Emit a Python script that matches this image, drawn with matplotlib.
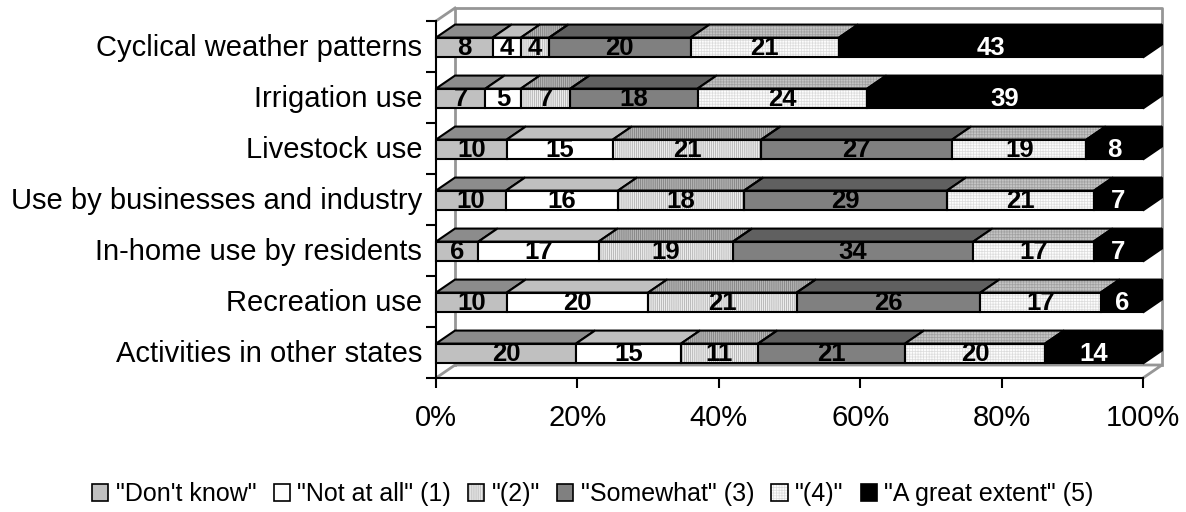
import numpy as np
import matplotlib
matplotlib.use('Agg')
import matplotlib.pyplot as plt
from matplotlib.patches import Polygon, Patch
from matplotlib.legend_handler import HandlerTuple

plt.rcParams['font.family'] = ['Liberation Sans', 'DejaVu Sans']
plt.rcParams['hatch.linewidth'] = 0.5

categories = ['Cyclical weather patterns', 'Irrigation use', 'Livestock use',
              'Use by businesses and industry', 'In-home use by residents',
              'Recreation use', 'Activities in other states']
dont_know = [8, 7, 10, 10, 6, 10, 20]
not_at_all = [4, 5, 15, 16, 17, 20, 15]
two = [4, 7, 21, 18, 19, 21, 11]
somewhat = [20, 18, 27, 29, 34, 26, 21]
four = [21, 24, 19, 21, 17, 17, 20]
great = [43, 39, 8, 7, 7, 6, 14]

series = [dont_know, not_at_all, two, somewhat, four, great]
names = ['"Don\'t know"', '"Not at all" (1)', '"(2)"', '"Somewhat" (3)', '"(4)"', '"A great extent" (5)']
# front colour, hatch colour, hatch, top colour, top hatch colour
styles = [('#c0c0c0', None, None, '#8c8c8c', None),
          ('#ffffff', None, None, '#c0c0c0', None),
          ('#ececec', '#a8a8a8', '||||||||', '#b4b4b4', '#787878'),
          ('#808080', None, None, '#606060', None),
          ('#fcfcfc', '#dcdcdc', '++++++', '#c4c4c4', '#a0a0a0'),
          ('#000000', None, None, '#000000', None)]

W, H = 1186, 512
fig = plt.figure(figsize=(W / 100, H / 100), dpi=100)
# plot box in pixels: 0% at 436, 100% at 1143, axis from y=21 to y=378
ax = fig.add_axes([436 / W, 1 - 378 / H, 707 / W, 357 / H])
ax.set_xlim(0, 100)
ax.set_ylim(0, 7)

dx = 19 / 7.07   # depth in data units
dy = 13 / 51.0
bar_h = 0.39
gray = '#969696'


def poly(pts, fc, hc=None, hatch=None, z=3):
    if hatch:
        ax.add_patch(Polygon(pts, closed=True, facecolor=fc, edgecolor=hc, hatch=hatch, lw=0, zorder=z, clip_on=False))
        ax.add_patch(Polygon(pts, closed=True, fill=False, edgecolor='black', lw=1.5, zorder=z + 0.1, clip_on=False))
    else:
        ax.add_patch(Polygon(pts, closed=True, facecolor=fc, edgecolor='black', lw=1.5, zorder=z, clip_on=False))


# back wall and floor
ax.plot([dx, dx, 100 + dx, 100 + dx], [dy, 7 + dy, 7 + dy, dy], color=gray, lw=2, clip_on=False, zorder=1)
ax.plot([0, dx, 100 + dx, 100], [0, dy, dy, 0], color=gray, lw=2, clip_on=False, zorder=1)
ax.plot([0, dx], [7, 7 + dy], color=gray, lw=2, clip_on=False, zorder=1)

data = np.array(series, dtype=float)
shares = data / data.sum(axis=0) * 100

for i, cat in enumerate(categories):
    yc = 6.48 - i
    y0, y1 = yc - bar_h / 2, yc + bar_h / 2
    left = 0.0
    for j in range(len(series)):
        w = shares[j][i]
        fc, hc, hatch, tc, thc = styles[j]
        right = left + w
        poly([(left, y0), (right, y0), (right, y1), (left, y1)], fc, hc, hatch)
        poly([(left, y1), (right, y1), (right + dx, y1 + dy), (left + dx, y1 + dy)], tc, thc, hatch)
        if j == len(series) - 1:
            poly([(right, y0), (right + dx, y0 + dy), (right + dx, y1 + dy), (right, y1)], '#000000')
        ax.text(left + w / 2, yc, str(series[j][i]), ha='center', va='center', fontsize=18.5, fontweight='bold',
                color='white' if j == len(series) - 1 else 'black', zorder=6)
        left = right

ax.set_yticks(np.arange(8))
ax.set_yticklabels([''] * 8)
for i, cat in enumerate(categories):
    ax.text(-1.95, 6.48 - i, cat, ha='right', va='center', fontsize=21)
ax.set_xticks(np.arange(0, 101, 20))
ax.set_xticklabels(['%d%%' % v for v in range(0, 101, 20)], fontsize=21)
ax.tick_params(axis='both', length=7, width=1.5, color='black', direction='out')
ax.tick_params(axis='x', pad=12, direction='out')
for s in ['top', 'right']:
    ax.spines[s].set_visible(False)
ax.spines['left'].set_linewidth(1.5)
ax.spines['bottom'].set_linewidth(1.5)

handles = []
for (fc, hc, hatch, tc, thc) in styles:
    if hatch:
        handles.append((Patch(facecolor=fc, edgecolor=hc, hatch=hatch, lw=0),
                        Patch(fill=False, edgecolor='black', lw=1.2)))
    else:
        handles.append(Patch(facecolor=fc, edgecolor='black', lw=1.2))
fig.legend(handles, names, loc='center', bbox_to_anchor=(593 / W, 1 - 494 / H), ncol=6, frameon=False, fontsize=18,
           handlelength=0.65, handleheight=0.65, handletextpad=0.3, columnspacing=0.68, borderpad=0,
           handler_map={tuple: HandlerTuple(ndivide=1, pad=0)})

fig.savefig('out.png', dpi=100)
